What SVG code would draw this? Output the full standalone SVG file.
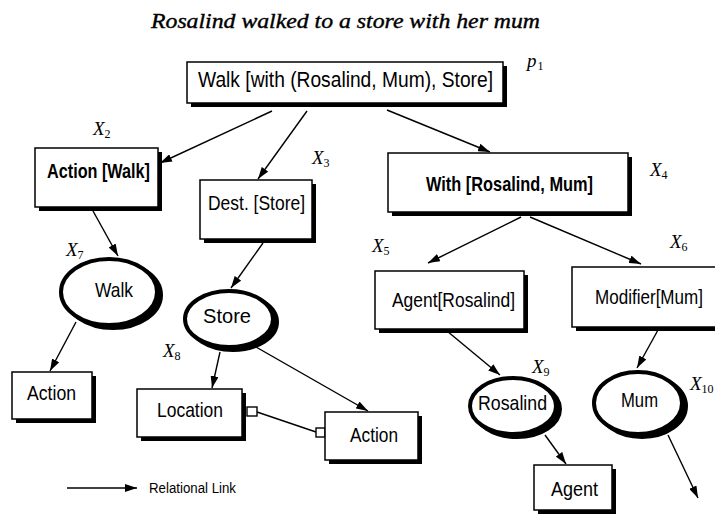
<svg xmlns="http://www.w3.org/2000/svg" width="715" height="514" viewBox="0 0 715 514">
  <defs>
    <marker id="arrow" viewBox="0 0 12 8" refX="12" refY="4" markerWidth="12" markerHeight="8" markerUnits="userSpaceOnUse" orient="auto">
      <path d="M0,0 L12,4 L0,8 Z" fill="#000"/>
    </marker>
  </defs>
  <style>
    .box { fill: #fff; stroke: #000; stroke-width: 1.5; }
    .shadow { fill: #000; }
    .ell { fill: #fff; stroke: #000; stroke-width: 4; }
    .ellsh { fill: #000; stroke: #000; stroke-width: 4; }
    .lbl { font-family: "Liberation Sans", Arial, sans-serif; font-size: 21px; fill: #000; }
    .bold { font-weight: bold; }
    .var { font-family: "Liberation Serif", "Times New Roman", serif; font-style: italic; font-size: 19px; fill: #000; }
    .sub { font-size: 12px; font-style: normal; }
    .edge { stroke: #000; stroke-width: 1.4; fill: none; marker-end: url(#arrow); }
    .link { stroke: #000; stroke-width: 1.4; fill: none; }
    .port { fill: #fff; stroke: #000; stroke-width: 1.4; }
  </style>

  <rect width="715" height="514" fill="#fff"/>

  <!-- sentence -->
  <text x="151" y="28" class="var" style="font-size:22px;stroke:#000;stroke-width:0.4" textLength="389" lengthAdjust="spacingAndGlyphs">Rosalind walked to a store with her mum</text>

  <!-- connectors -->
  <g id="connectors">
    <line class="edge" x1="272" y1="111" x2="160" y2="163"/>
    <line class="edge" x1="307" y1="111" x2="258" y2="179"/>
    <line class="edge" x1="387" y1="110" x2="490" y2="152"/>
    <line class="edge" x1="93" y1="211" x2="118" y2="256"/>
    <line class="edge" x1="263" y1="243" x2="231" y2="288"/>
    <line class="edge" x1="76" y1="322" x2="50" y2="371"/>
    <line class="edge" x1="220" y1="352" x2="212" y2="388"/>
    <line class="edge" x1="256" y1="347" x2="368" y2="411"/>
    <line class="edge" x1="521" y1="217" x2="428" y2="263"/>
    <line class="edge" x1="530" y1="217" x2="641" y2="264"/>
    <line class="edge" x1="447" y1="331" x2="500" y2="375"/>
    <line class="edge" x1="658" y1="330" x2="637" y2="368"/>
    <line class="edge" x1="545" y1="435" x2="566" y2="464"/>
    <line class="edge" x1="668" y1="435" x2="698" y2="498"/>
    <!-- Location – Action link with square ports -->
    <line class="link" x1="257" y1="412" x2="316" y2="432"/>
    <rect class="port" x="247" y="407" width="10" height="9"/>
    <rect class="port" x="316" y="428" width="9" height="9"/>
  </g>

  <!-- p1 -->
  <g id="p1">
    <rect class="shadow" x="191" y="66" width="316" height="41"/>
    <rect class="box" x="187" y="62" width="316" height="41"/>
    <text class="lbl" x="198" y="87" style="font-size:22px" textLength="295" lengthAdjust="spacingAndGlyphs">Walk [with (Rosalind, Mum), Store]</text>
    <text class="var" x="527" y="67">p<tspan class="sub" dx="1" dy="3">1</tspan></text>
  </g>

  <!-- X2 -->
  <g id="x2">
    <rect class="shadow" x="39" y="152" width="123" height="59"/>
    <rect class="box" x="35" y="148" width="123" height="59"/>
    <text class="lbl bold" x="47" y="178" textLength="103" lengthAdjust="spacingAndGlyphs">Action [Walk]</text>
    <text class="var" x="93" y="135">X<tspan class="sub" dy="3">2</tspan></text>
  </g>

  <!-- X3 -->
  <g id="x3">
    <rect class="shadow" x="204" y="184" width="112" height="59"/>
    <rect class="box" x="200" y="180" width="112" height="59"/>
    <text class="lbl" x="208" y="210" textLength="97" lengthAdjust="spacingAndGlyphs">Dest. [Store]</text>
    <text class="var" x="312" y="164">X<tspan class="sub" dy="3">3</tspan></text>
  </g>

  <!-- X4 -->
  <g id="x4">
    <rect class="shadow" x="392" y="157" width="240" height="59"/>
    <rect class="box" x="388" y="153" width="240" height="59"/>
    <text class="lbl bold" x="426" y="191" textLength="167" lengthAdjust="spacingAndGlyphs">With [Rosalind, Mum]</text>
    <text class="var" x="650" y="176">X<tspan class="sub" dy="3">4</tspan></text>
  </g>

  <!-- X5 -->
  <g id="x5">
    <rect class="shadow" x="379" y="275" width="149" height="58"/>
    <rect class="box" x="375" y="271" width="149" height="58"/>
    <text class="lbl" x="392" y="307" textLength="123" lengthAdjust="spacingAndGlyphs">Agent[Rosalind]</text>
    <text class="var" x="372" y="252">X<tspan class="sub" dy="3">5</tspan></text>
  </g>

  <!-- X6 (box runs past the right edge) -->
  <g id="x6">
    <rect class="shadow" x="576" y="271" width="150" height="60"/>
    <rect class="box" x="572" y="267" width="150" height="60"/>
    <text class="lbl" x="595" y="304" textLength="108" lengthAdjust="spacingAndGlyphs">Modifier[Mum]</text>
    <text class="var" x="670" y="248">X<tspan class="sub" dy="3">6</tspan></text>
  </g>

  <!-- X7 -->
  <g id="x7">
    <ellipse class="ellsh" cx="113" cy="295" rx="48" ry="33"/>
    <ellipse class="ell" cx="109" cy="292" rx="48" ry="33"/>
    <text class="lbl" x="95" y="297" textLength="38" lengthAdjust="spacingAndGlyphs">Walk</text>
    <text class="var" x="66" y="256">X<tspan class="sub" dy="3">7</tspan></text>
  </g>

  <!-- X8 -->
  <g id="x8">
    <ellipse class="ellsh" cx="233" cy="322" rx="44" ry="28"/>
    <ellipse class="ell" cx="229" cy="319" rx="44" ry="28"/>
    <text class="lbl" x="203" y="323" textLength="48" lengthAdjust="spacingAndGlyphs">Store</text>
    <text class="var" x="163" y="357">X<tspan class="sub" dy="3">8</tspan></text>
  </g>

  <!-- leaf nodes -->
  <g id="action-left">
    <rect class="shadow" x="16" y="376" width="80" height="47"/>
    <rect class="box" x="12" y="372" width="80" height="47"/>
    <text class="lbl" x="27" y="400" textLength="49" lengthAdjust="spacingAndGlyphs">Action</text>
  </g>

  <g id="location">
    <rect class="shadow" x="141" y="393" width="105" height="48"/>
    <rect class="box" x="137" y="389" width="105" height="48"/>
    <text class="lbl" x="157" y="417" textLength="66" lengthAdjust="spacingAndGlyphs">Location</text>
  </g>

  <g id="action-mid">
    <rect class="shadow" x="329" y="416" width="93" height="48"/>
    <rect class="box" x="325" y="412" width="93" height="48"/>
    <text class="lbl" x="350" y="442" textLength="48" lengthAdjust="spacingAndGlyphs">Action</text>
  </g>

  <!-- X9 -->
  <g id="x9">
    <ellipse class="ellsh" cx="517" cy="409" rx="43" ry="28"/>
    <ellipse class="ell" cx="513" cy="406" rx="43" ry="28"/>
    <text class="lbl" x="478" y="410" textLength="69" lengthAdjust="spacingAndGlyphs">Rosalind</text>
    <text class="var" x="532" y="373">X<tspan class="sub" dy="3">9</tspan></text>
  </g>

  <!-- X10 -->
  <g id="x10">
    <ellipse class="ellsh" cx="642" cy="406" rx="44" ry="31"/>
    <ellipse class="ell" cx="638" cy="403" rx="44" ry="31"/>
    <text class="lbl" x="621" y="407" textLength="37" lengthAdjust="spacingAndGlyphs">Mum</text>
    <text class="var" x="690" y="390">X<tspan class="sub" dy="3">10</tspan></text>
  </g>

  <g id="agent">
    <rect class="shadow" x="538" y="469" width="78" height="45"/>
    <rect class="box" x="534" y="465" width="78" height="45"/>
    <text class="lbl" x="551" y="496" textLength="47" lengthAdjust="spacingAndGlyphs">Agent</text>
  </g>

  <!-- legend -->
  <g id="legend">
    <line class="edge" x1="67" y1="488" x2="137" y2="488"/>
    <text class="lbl" x="149" y="493" style="font-size:14px" textLength="87" lengthAdjust="spacingAndGlyphs">Relational Link</text>
  </g>
</svg>
